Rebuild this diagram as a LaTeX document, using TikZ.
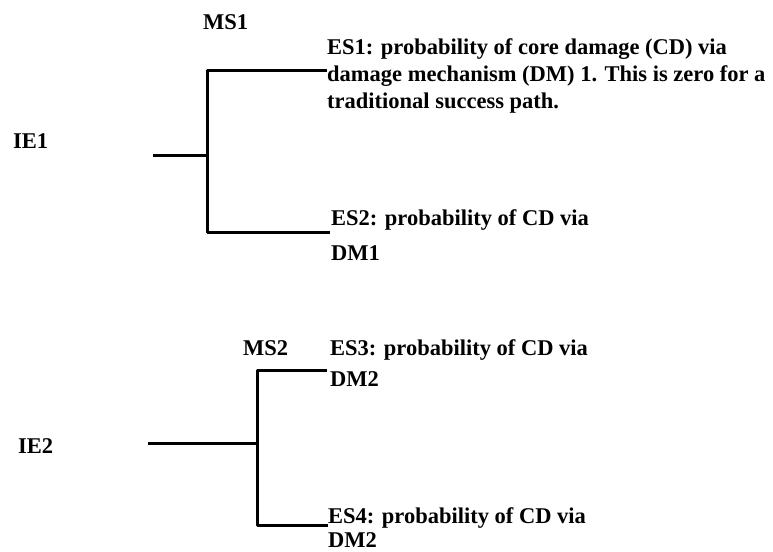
\documentclass[tikz,border=0pt]{standalone}
\usepackage{fontspec}
\setmainfont{Liberation Serif}
\usetikzlibrary{positioning}

\tikzset{
  lbl/.style={anchor=base west,inner sep=0pt,font=\bfseries\fontsize{22.5}{27}\selectfont,align=left},
  branch/.style={line width=3pt,line join=round}
}

\begin{document}
\begin{tikzpicture}[x=1pt,y=-1pt]
\useasboundingbox (0,0) rectangle (773,551);
% first initiating event
\coordinate (s1) at (153,155);
\coordinate (j1) at (207,155);
\coordinate (t1) at (207,70);
\coordinate (b1) at (207,232);
\coordinate (e1) at (327,70);
\coordinate (e2) at (330,232);
\draw[branch] (s1)--(j1);
\draw[branch] (e1)--(t1)--(b1)--(e2);
\node (ie1) at (13,148) [lbl] {IE1};
\node (ms1) at (203,30) [lbl] {MS1};
% multi-line texts sit on the baseline of their last line
\node (es1) at (327,108) [lbl] {ES1: probability of core damage (CD) via\\damage mechanism (DM) 1. This is zero for a\\traditional success path.};
\node (es2) at (331,260) [lbl] {ES2: probability of CD via\\[8pt]DM1};
% second initiating event
\coordinate (s2) at (148,443);
\coordinate (j2) at (257,443);
\coordinate (t2) at (257,370);
\coordinate (b2) at (257,525);
\coordinate (e3) at (327,370);
\coordinate (e4) at (328,525);
\draw[branch] (s2)--(j2);
\draw[branch] (e3)--(t2)--(b2)--(e4);
\node (ie2) at (18,453) [lbl] {IE2};
\node (ms2) at (243,355) [lbl] {MS2};
\node (es3) at (330,386) [lbl] {ES3: probability of CD via\\[4pt]DM2};
\node (es4) at (328,547) [lbl] {ES4: probability of CD via\\[-3pt]DM2};
\end{tikzpicture}
\end{document}
